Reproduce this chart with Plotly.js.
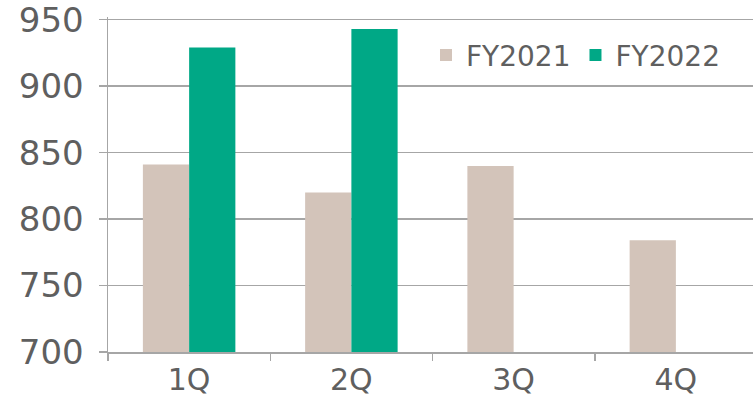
<!DOCTYPE html>
<html><head><meta charset="utf-8">
<script src="https://cdn.plot.ly/plotly-3.0.1.min.js"></script>
<style>html,body{margin:0;padding:0;overflow:hidden;background:#fff}</style>
</head><body>
<div id="chart" style="width:757px;height:402px"></div>
<script>
const categories = ["1Q", "2Q", "3Q", "4Q"];
const fy2021 = [841, 820, 840, 784];
const fy2022 = [929, 943, null, null];
const yTicks = [700, 750, 800, 850, 900, 950];

const fontFam = "DejaVu Sans, sans-serif";
const grey = "#5f5f5f";
const lineCol = "#a6a6a6";

const data = [
  {type: "bar", name: "FY2021", x: categories, y: fy2021, marker: {color: "#d3c4ba"}},
  {type: "bar", name: "FY2022", x: categories, y: fy2022, marker: {color: "#00a886"}}
];
const layout = {
  width: 757, height: 402,
  margin: {l: 108, r: 0, t: 17, b: 50},
  paper_bgcolor: "#fff", plot_bgcolor: "#fff",
  barmode: "group", bargap: 0.43, bargroupgap: 0,
  font: {family: fontFam, color: grey, size: 30},
  showlegend: true,
  legend: {orientation: "h", x: 0.49, xanchor: "left", y: 0.96, yanchor: "top",
           font: {size: 28, color: grey}, bgcolor: "rgba(0,0,0,0)", traceorder: "normal"},
  xaxis: {type: "category", showgrid: false, showline: true, linecolor: lineCol, linewidth: 1.5,
          ticks: "outside", tickson: "boundaries", ticklen: 7, tickwidth: 1.5, tickcolor: lineCol,
          tickfont: {size: 30, color: grey}, zeroline: false},
  yaxis: {range: [700, 952], tickvals: yTicks, showgrid: true, gridcolor: lineCol, gridwidth: 1.5,
          showline: true, linecolor: lineCol, linewidth: 1.5, ticks: "outside", ticklen: 8,
          tickwidth: 1.5, tickcolor: lineCol, tickfont: {size: 34, color: grey}, zeroline: false,
          ticklabelstandoff: 8, ticklabeloverflow: "allow"}
};
Plotly.newPlot("chart", data, layout, {displayModeBar: false, staticPlot: true});
</script>
</body></html>
